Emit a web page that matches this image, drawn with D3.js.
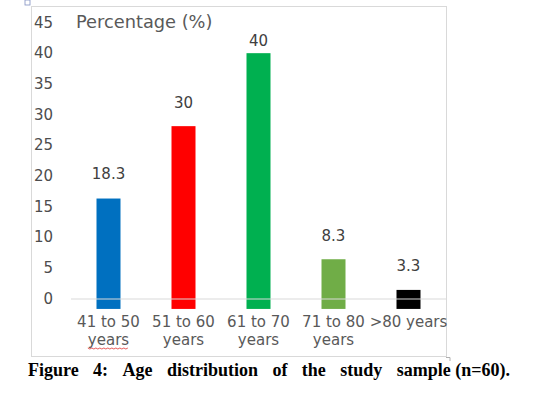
<!DOCTYPE html>
<html>
<head>
<meta charset="utf-8">
<script src="https://cdn.jsdelivr.net/npm/d3@7"></script>
<style>
  html, body { margin: 0; padding: 0; background: #fff; }
  svg { display: block; }
</style>
</head>
<body>
<svg id="chart" width="553" height="400"></svg>
<script>
// ---- data ----
const categories = ["41 to 50 years", "51 to 60 years", "61 to 70 years", "71 to 80 years", ">80 years"];
const labelLines = [["41 to 50", "years"], ["51 to 60", "years"], ["61 to 70", "years"], ["71 to 80", "years"], [">80 years"]];
// stated percentages (data labels)
const values = [18.3, 30, 40, 8.3, 3.3];
const valueLabels = ["18.3", "30", "40", "8.3", "3.3"];
// bar tops as read against the axis in the picture (bars start below zero)
const barTops = [16.3, 28.1, 40, 6.4, 1.4];
const barBottom = -1.7;
const colors = ["#0070c0", "#ff0000", "#00b050", "#70ad47", "#000000"];
const yTicks = [0, 5, 10, 15, 20, 25, 30, 35, 40, 45];
const axisTitle = "Percentage (%)";
const captionWords = ["Figure", "4:", "Age", "distribution", "of", "the", "study", "sample (n=60)."];

const svg = d3.select("#chart");
const font = "DejaVu Sans, Verdana, sans-serif";

// frame
svg.append("rect").attr("x", 31.5).attr("y", 6.5).attr("width", 415).attr("height", 350)
  .attr("fill", "none").attr("stroke", "#d9d9d9").attr("stroke-width", 1);

const x = d3.scaleBand().domain(categories).range([71, 446]).paddingInner(0.68).paddingOuter(0.34);
const y = d3.scaleLinear().domain([0, 45]).range([298.5, 22.5]);

// bars
svg.append("g").selectAll("rect").data(barTops).join("rect")
  .attr("x", (d, i) => x(categories[i]))
  .attr("width", x.bandwidth())
  .attr("y", d => y(d))
  .attr("height", d => y(barBottom) - y(d))
  .attr("fill", (d, i) => colors[i]);

// zero line (drawn over bars)
svg.append("line").attr("x1", 71).attr("x2", 446).attr("y1", y(0) + 0.5).attr("y2", y(0) + 0.5)
  .attr("stroke", "#d9d9d9").attr("stroke-width", 1);

// y axis tick labels
const yAxis = d3.axisLeft(y).tickValues(yTicks).tickSize(0).tickPadding(0);
const gy = svg.append("g").attr("transform", "translate(53,0)").call(yAxis);
gy.select(".domain").remove();
gy.selectAll("text").attr("font-family", font).attr("font-size", 15).attr("fill", "#4d4d4d");

// axis title
svg.append("text").attr("x", 76).attr("y", 28).attr("font-family", font).attr("font-size", 17.8)
  .attr("fill", "#595959").text(axisTitle);

// value labels
svg.append("g").selectAll("text").data(values).join("text")
  .attr("x", (d, i) => x(categories[i]) + x.bandwidth() / 2)
  .attr("y", d => y(d) - 7)
  .attr("text-anchor", "middle").attr("font-family", font).attr("font-size", 15)
  .attr("fill", "#404040").text((d, i) => valueLabels[i]);

// x labels
const xl = svg.append("g");
labelLines.forEach((lines, i) => {
  lines.forEach((ln, j) => {
    const t = xl.append("text")
      .attr("x", x(categories[i]) + x.bandwidth() / 2)
      .attr("y", 327 + j * 17.5)
      .attr("text-anchor", "middle").attr("font-family", font).attr("font-size", 15)
      .attr("fill", "#595959").text(ln);
    if (i === 0 && j === 1) {
      // spell-check squiggle under first "years"
      const bb = t.node().getBBox();
      const pts = [];
      for (let px = bb.x; px <= bb.x + bb.width; px += 2) pts.push([px, 348 + ((Math.round((px - bb.x) / 2) % 2) ? 1 : 0)]);
      xl.append("path").attr("d", d3.line()(pts)).attr("fill", "none").attr("stroke", "#e03030").attr("stroke-width", 0.8);
    }
  });
});

// small corner marks
svg.append("rect").attr("x", 25).attr("y", 0).attr("width", 5).attr("height", 5)
  .attr("fill", "none").attr("stroke", "#8090c0").attr("stroke-width", 0.8);
svg.append("path").attr("d", "M446,357.5H450V361").attr("fill", "none").attr("stroke", "#b0b0b0").attr("stroke-width", 1);

// caption, justified word by word
const cap = svg.append("g");
const capFont = "Liberation Serif, Times New Roman, serif";
const capLeft = 28, capRight = 510;
const tmp = captionWords.map(w => cap.append("text").attr("font-family", capFont).attr("font-weight", "bold")
  .attr("font-size", 18).attr("fill", "#000").attr("y", 376).attr("xml:space", "preserve").text(w));
const widths = tmp.map(t => t.node().getComputedTextLength());
const total = d3.sum(widths);
const gap = (capRight - capLeft - total) / (captionWords.length - 1);
let cx = capLeft;
tmp.forEach((t, i) => {
  t.attr("x", cx);
  cx += widths[i] + gap;
});
</script>
</body>
</html>
